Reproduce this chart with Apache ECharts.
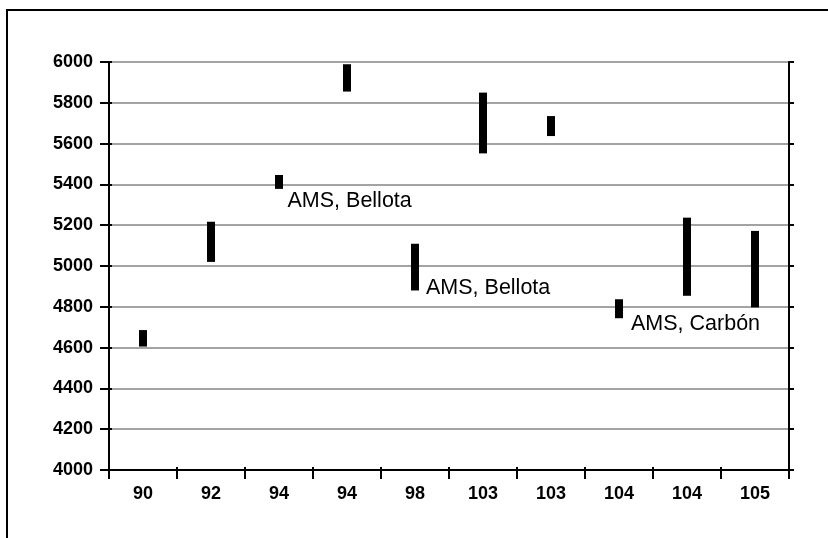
<!DOCTYPE html>
<html>
<head>
<meta charset="utf-8">
<script src="https://cdn.jsdelivr.net/npm/echarts@6/dist/echarts.min.js"></script>
<style>
html,body{margin:0;padding:0;background:#fff;}
#chart{width:828px;height:538px;}
</style>
</head>
<body>
<div id="chart"></div>
<script>
// ---- data ----
const categories = ['90', '92', '94', '94', '98', '103', '103', '104', '104', '105'];
const lowValues  = [4605, 5020, 5378, 5855, 4880, 5552, 5637, 4744, 4854, 4797];
const highValues = [4686, 5217, 5446, 5989, 5109, 5850, 5735, 4837, 5237, 5172];
const barLabels  = ['', '', 'AMS, Bellota', '', 'AMS, Bellota', '', '', 'AMS, Carbón', '', ''];
const yTicks = { min: 4000, max: 6000, interval: 200 };

// ---- styling (label placement relative to the bar's low end, in px) ----
const labelOffsets = { 2: [8.5, 12], 4: [11, -2.5], 7: [12, 6] };
const BAR_W = 8;
const FONT = '"Liberation Sans", Arial, sans-serif';

const seriesData = categories.map((c, i) => [i, lowValues[i], highValues[i]]);

const chart = echarts.init(document.getElementById('chart'), null, { renderer: 'canvas' });
chart.setOption({
  backgroundColor: '#fff',
  animation: false,
  graphic: [{
    type: 'rect',
    shape: { x: 7, y: 10, width: 1000, height: 1000 },
    style: { fill: 'none', stroke: '#000', lineWidth: 2 },
    silent: true
  }],
  grid: { left: 109, right: 39, top: 62, bottom: 68 },
  xAxis: [{
    type: 'category',
    data: categories,
    position: 'bottom',
    axisLine: { lineStyle: { color: '#000', width: 2 } },
    axisTick: { show: true, length: 9, lineStyle: { color: '#000', width: 2 } },
    axisLabel: { color: '#000', fontSize: 18, fontWeight: 'bold', fontFamily: FONT, margin: 15 },
    splitLine: { show: false }
  }, {
    type: 'category',
    data: categories,
    position: 'bottom',
    axisLine: { show: false },
    axisTick: { show: true, inside: true, length: 3, lineStyle: { color: '#000', width: 2 } },
    axisLabel: { show: false },
    splitLine: { show: false }
  }],
  yAxis: [{
    type: 'value',
    min: yTicks.min, max: yTicks.max, interval: yTicks.interval,
    position: 'left',
    axisLine: { show: true, lineStyle: { color: '#000', width: 2 } },
    axisTick: { show: true, length: 9, lineStyle: { color: '#000', width: 2 } },
    axisLabel: { color: '#000', fontSize: 18, fontWeight: 'bold', fontFamily: FONT, margin: 16,
                 formatter: function (v) { return String(v); } },
    splitLine: { show: true, lineStyle: { color: '#858585', width: 1.5 } }
  }, {
    type: 'value',
    min: yTicks.min, max: yTicks.max, interval: yTicks.interval,
    position: 'left',
    axisLine: { show: false },
    axisTick: { show: true, inside: true, length: 3, lineStyle: { color: '#000', width: 2 } },
    axisLabel: { show: false },
    splitLine: { show: false }
  }, {
    type: 'value',
    min: yTicks.min, max: yTicks.max, interval: yTicks.interval,
    position: 'right',
    axisLine: { show: true, lineStyle: { color: '#000', width: 2 } },
    axisTick: { show: true, length: 5, lineStyle: { color: '#000', width: 2 } },
    axisLabel: { show: false },
    splitLine: { show: false }
  }],
  series: [{
    type: 'custom',
    xAxisIndex: 0,
    yAxisIndex: 0,
    data: seriesData,
    encode: { x: 0, y: [1, 2] },
    renderItem: function (params, api) {
      const idx = api.value(0);
      const lo = api.coord([idx, api.value(1)]);
      const hi = api.coord([idx, api.value(2)]);
      const children = [{
        type: 'rect',
        shape: { x: lo[0] - BAR_W / 2, y: hi[1], width: BAR_W, height: lo[1] - hi[1] },
        style: { fill: '#000' }
      }];
      const txt = barLabels[params.dataIndex];
      if (txt) {
        const off = labelOffsets[params.dataIndex] || [10, 10];
        children.push({
          type: 'text',
          style: {
            text: txt,
            x: lo[0] + off[0],
            y: lo[1] + off[1],
            fill: '#000',
            fontSize: 21.5,
            fontFamily: FONT,
            align: 'left',
            verticalAlign: 'middle'
          }
        });
      }
      return { type: 'group', children: children };
    }
  }]
});
</script>
</body>
</html>
